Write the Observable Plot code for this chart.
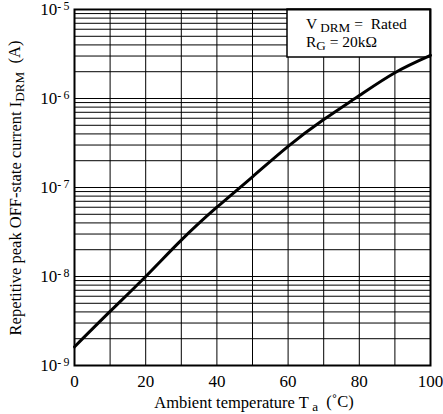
<!DOCTYPE html>
<html>
<head>
<meta charset="utf-8">
<script src="https://cdn.jsdelivr.net/npm/d3@7"></script>
<script src="https://cdn.jsdelivr.net/npm/@observablehq/plot@0.6"></script>
<style>
  html, body { margin: 0; padding: 0; background: #fff; }
  #chart svg { display: block; }
</style>
</head>
<body>
<div id="chart"></div>
<script>
// Ambient temperature (°C) and repetitive peak OFF-state current I_DRM (A)
const temperature = [0, 10, 20, 30, 40, 50, 60, 70, 80, 90, 100];
const offStateCurrent = [1.62e-9, 4.05e-9, 1.0e-8, 2.56e-8, 6.0e-8, 1.32e-7, 2.9e-7, 5.8e-7, 1.08e-6, 1.95e-6, 3.05e-6];

// Axis ticks and grid
const xTickValues = [0, 20, 40, 60, 80, 100];
const xGridValues = [10, 20, 30, 40, 50, 60, 70, 80, 90];
const yDecadeExponents = [-9, -8, -7, -6, -5];
const yMantissas = [1, 2, 3, 4, 5, 6, 7, 8, 9];

// Condition box text
const conditionLines = [
  {main: "V", sub: "DRM", rest: " =\u2002Rated"},
  {main: "R", sub: "G", rest: " = 20kΩ"}
];

const font = "'Liberation Serif', 'Times New Roman', Times, serif";

const rows = temperature.map((t, i) => ({t, i: offStateCurrent[i]}));
const yDecades = yDecadeExponents.map(e => Math.pow(10, e));
const yGrid = [];
yDecadeExponents.slice(0, -1).forEach(e => yMantissas.forEach(m => yGrid.push(m * Math.pow(10, e))));
yGrid.push(Math.pow(10, yDecadeExponents[yDecadeExponents.length - 1]));

const W = 443, H = 414;
const mL = 74, mR = 13, mT = 9, mB = 49;

const chart = Plot.plot({
  width: W,
  height: H,
  marginLeft: mL,
  marginRight: mR,
  marginTop: mT,
  marginBottom: mB,
  style: {fontFamily: font, fontSize: "17px", color: "#000", background: "#fff"},
  x: {domain: [0, 100], label: null},
  y: {type: "log", domain: [yDecades[0], yDecades[yDecades.length - 1]], label: null},
  marks: [
    Plot.ruleY(yGrid, {stroke: "#000", strokeWidth: 1}),
    Plot.ruleX(xGridValues, {stroke: "#000", strokeWidth: 1}),
    Plot.line(rows, {x: "t", y: "i", curve: "natural", stroke: "#000", strokeWidth: 3}),
    Plot.frame({stroke: "#000", strokeWidth: 2}),
    Plot.axisX({ticks: xTickValues, tickSize: 0, tickPadding: 9, label: null, fontSize: 17}),
    Plot.axisY({
      ticks: yDecades,
      tickSize: 0,
      tickPadding: 5,
      label: null,
      fontSize: 17,
      tickFormat: d => "10^" + Math.round(Math.log10(d))
    })
  ]
});

document.getElementById("chart").appendChild(chart);

const svg = d3.select(chart);

// Superscript exponents on the decade labels
svg.selectAll('g[aria-label="y-axis tick label"] text').each(function () {
  const t = d3.select(this);
  const [base, exp] = t.text().split("^");
  t.text(null);
  t.append("tspan").text(base);
  t.append("tspan")
    .attr("dy", "-0.42em")
    .attr("font-size", "0.7em")
    .text(exp.replace("-", "-\u2009"));
});

// Condition box in the upper-right corner, beneath the curve
const box = svg.insert("g", 'g[aria-label="line"]').attr("text-anchor", "start");
const boxW = 143, boxH = 48;
box.append("rect")
  .attr("x", W - mR - boxW)
  .attr("y", mT)
  .attr("width", boxW)
  .attr("height", boxH)
  .attr("fill", "#fff")
  .attr("stroke", "#000")
  .attr("stroke-width", 1.5);
conditionLines.forEach((line, k) => {
  const txt = box.append("text")
    .attr("x", W - mR - boxW + 19)
    .attr("y", mT + 20 + k * 18)
    .attr("font-family", font)
    .attr("font-size", 15.5)
    .attr("fill", "#000");
  txt.append("tspan").text(line.main + (k === 0 ? "\u2009" : ""));
  txt.append("tspan").attr("dy", "0.2em").attr("font-size", "0.85em").text(line.sub);
  txt.append("tspan").attr("dy", "-0.17em").text(line.rest);
});

// Axis titles with subscripts
const xTitle = svg.append("text")
  .attr("x", mL + (W - mL - mR) / 2 + 2)
  .attr("y", 408)
  .attr("text-anchor", "middle")
  .attr("font-family", font)
  .attr("font-size", 16.5)
  .attr("fill", "#000");
xTitle.append("tspan").text("Ambient temperature T\u2009");
xTitle.append("tspan").attr("dy", "0.25em").attr("font-size", "0.8em").text("a");
xTitle.append("tspan").attr("dy", "-0.25em").text("\u2002(˚C)");

const yTitle = svg.append("text")
  .attr("transform", "translate(21,188) rotate(-90)")
  .attr("text-anchor", "middle")
  .attr("font-family", font)
  .attr("font-size", 16.5)
  .attr("fill", "#000");
yTitle.append("tspan").text("Repetitive peak OFF-state current I");
yTitle.append("tspan").attr("dy", "0.25em").attr("font-size", "0.8em").text("DRM");
yTitle.append("tspan").attr("dy", "-0.25em").text("\u2002(A)");
</script>
</body>
</html>
